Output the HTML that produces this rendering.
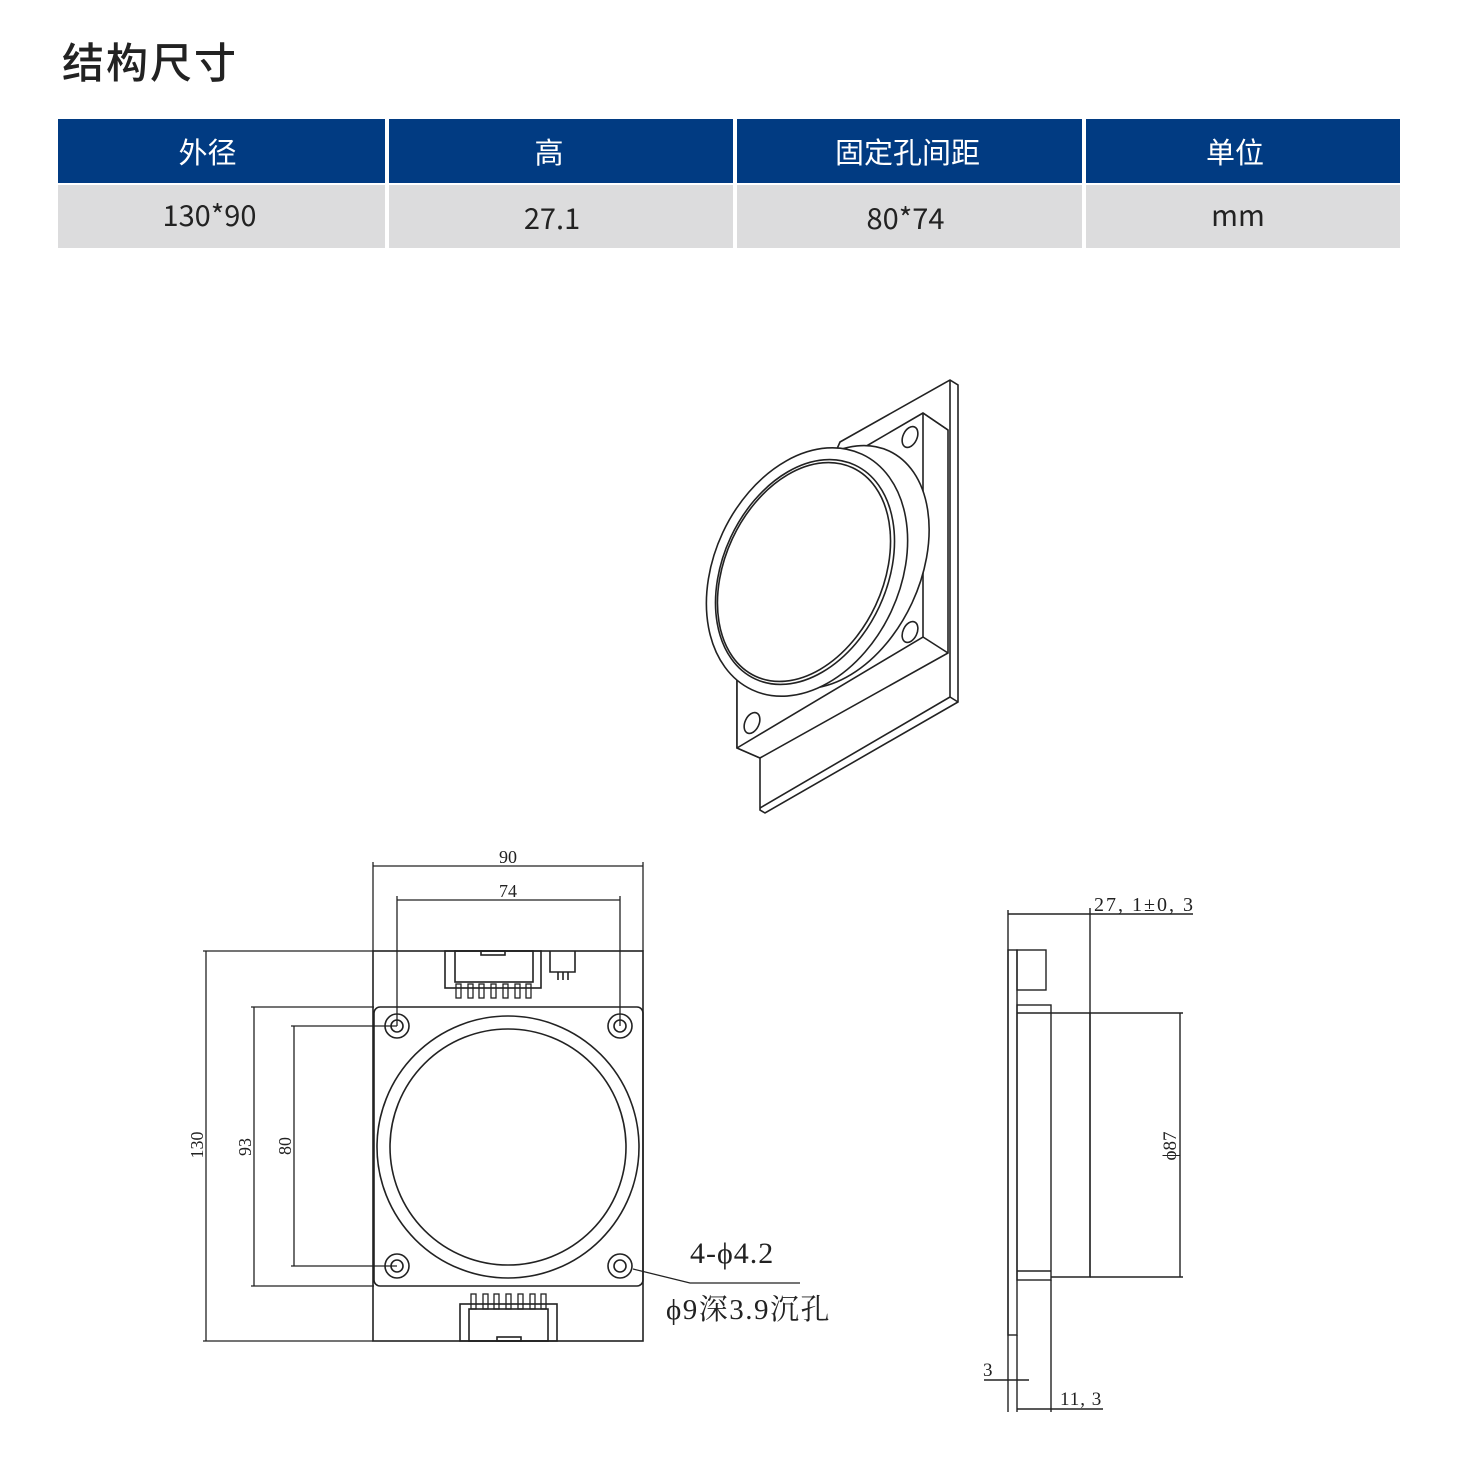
<!DOCTYPE html>
<html><head><meta charset="utf-8"><style>
body{margin:0;width:1464px;height:1470px;background:#fff;overflow:hidden;font-family:"Noto Sans CJK SC","Liberation Sans",sans-serif;}
.t{position:absolute;left:62px;top:31px;font-size:42px;font-weight:500;color:#222;letter-spacing:2px;line-height:60px}
.c{position:absolute;display:flex;align-items:center;justify-content:center;font-size:29px;font-weight:400;box-sizing:border-box}
.h{background:#013b82;color:#fff;top:119px;height:64px}
.r{background:#dcdcdd;color:#222;top:185px;height:63px}
svg{position:absolute;left:0;top:0}
</style></head><body>
<div class="t">结构尺寸</div>
<div class="c h" style="left:58px;width:327px;padding-right:28px">外径</div>
<div class="c h" style="left:389px;width:344px;padding-right:24px">高</div>
<div class="c h" style="left:737px;width:345px;padding-right:4px">固定孔间距</div>
<div class="c h" style="left:1086px;width:314px;padding-right:16px">单位</div>
<div class="c r" style="left:58px;width:327px;padding-right:24px;padding-bottom:6px">130*90</div>
<div class="c r" style="left:389px;width:344px;padding-right:18px">27.1</div>
<div class="c r" style="left:737px;width:345px;padding-right:8px">80*74</div>
<div class="c r" style="left:1086px;width:314px;padding-right:10px;padding-bottom:6px">mm</div>
<svg width="1464" height="1470" viewBox="0 0 1464 1470" fill="none" stroke="#222" stroke-width="1.6">
<!-- 3D view -->
<polygon points="950,380 958,385 958,702 765,813 760,810 760,758 737,748 737,678 840,442" fill="#fff"/>
<polyline points="950,380 950,697 760,808"/>
<line x1="950" y1="697" x2="958" y2="702"/>
<polygon points="923,413 948,430 948,653 760,758 737,748 737,678 863,448" fill="#fff"/>
<polyline points="923,413 923,637 737,748"/>
<line x1="923" y1="637" x2="948" y2="653"/>
<line x1="923" y1="413" x2="948" y2="430"/>
<ellipse cx="910" cy="437" rx="7" ry="11" transform="rotate(25 910 437)"/>
<ellipse cx="910" cy="632" rx="7" ry="11" transform="rotate(25 910 632)"/>
<ellipse cx="752" cy="723" rx="7" ry="11" transform="rotate(25 752 723)"/>
<ellipse cx="835" cy="567" rx="85" ry="128" transform="rotate(25 835 567)" fill="#fff"/>
<ellipse cx="807" cy="572" rx="93" ry="130" transform="rotate(25 807 572)" fill="#fff"/>
<ellipse cx="805" cy="572" rx="82" ry="118" transform="rotate(25 805 572)"/>
<ellipse cx="804" cy="572" rx="79" ry="115" transform="rotate(25 804 572)"/>
<!-- front view -->
<rect x="373" y="951" width="270" height="390" fill="#fff"/>
<rect x="374" y="1007" width="269" height="279" rx="6"/>
<circle cx="508" cy="1147" r="131"/><circle cx="508" cy="1147" r="118"/>
<g><circle cx="397" cy="1026" r="12"/><circle cx="397" cy="1026" r="6"/>
<circle cx="620" cy="1026" r="12"/><circle cx="620" cy="1026" r="6"/>
<circle cx="397" cy="1266" r="12"/><circle cx="397" cy="1266" r="6"/>
<circle cx="620" cy="1266" r="12"/><circle cx="620" cy="1266" r="6"/></g>
<rect x="445" y="951" width="96" height="37"/><rect x="455" y="951" width="78" height="31"/>
<rect x="481" y="951" width="24" height="4"/>
<g stroke-width="1.3"><rect x="456" y="984" width="5" height="14"/><rect x="468" y="984" width="5" height="14"/><rect x="479" y="984" width="5" height="14"/><rect x="491" y="984" width="5" height="14"/><rect x="503" y="984" width="5" height="14"/><rect x="515" y="984" width="5" height="14"/><rect x="526" y="984" width="5" height="14"/></g>
<polyline points="550,951 550,972 575,972 575,951"/><line x1="558" y1="972" x2="558" y2="980"/><line x1="563" y1="972" x2="563" y2="980"/><line x1="568" y1="972" x2="568" y2="980"/>
<rect x="460" y="1304" width="97" height="37"/><rect x="469" y="1309" width="79" height="32"/>
<rect x="497" y="1337" width="24" height="4"/>
<g stroke-width="1.3"><rect x="471" y="1294" width="5" height="15"/><rect x="483" y="1294" width="5" height="15"/><rect x="494" y="1294" width="5" height="15"/><rect x="506" y="1294" width="5" height="15"/><rect x="518" y="1294" width="5" height="15"/><rect x="530" y="1294" width="5" height="15"/><rect x="541" y="1294" width="5" height="15"/></g>
<g stroke-width="1.3">
<line x1="373" y1="862" x2="373" y2="951"/><line x1="643" y1="862" x2="643" y2="951"/><line x1="373" y1="866" x2="643" y2="866"/>
<line x1="397" y1="896" x2="397" y2="1026"/><line x1="620" y1="896" x2="620" y2="1026"/><line x1="397" y1="900" x2="620" y2="900"/>
<line x1="203" y1="951" x2="373" y2="951"/><line x1="203" y1="1341" x2="373" y2="1341"/><line x1="206" y1="951" x2="206" y2="1341"/>
<line x1="251" y1="1007" x2="374" y2="1007"/><line x1="251" y1="1286" x2="374" y2="1286"/><line x1="254" y1="1007" x2="254" y2="1286"/>
<line x1="291" y1="1026" x2="397" y2="1026"/><line x1="291" y1="1266" x2="397" y2="1266"/><line x1="294" y1="1026" x2="294" y2="1266"/>
<polyline points="633,1269 690,1283 800,1283"/>
</g>
<!-- side view -->
<g stroke-width="1.4">
<line x1="1008" y1="910" x2="1008" y2="1412"/>
<rect x="1008" y="950" width="9" height="385"/>
<rect x="1017" y="950" width="29" height="40"/>
<rect x="1017" y="1005" width="34" height="275"/>
<line x1="1017" y1="1013" x2="1051" y2="1013"/><line x1="1017" y1="1271" x2="1051" y2="1271"/>
<polyline points="1051,1013 1090,1013 1090,1277 1051,1277"/>
<line x1="1090" y1="1013" x2="1183" y2="1013"/><line x1="1090" y1="1277" x2="1183" y2="1277"/>
<line x1="1180" y1="1013" x2="1180" y2="1277"/>
<line x1="1008" y1="914" x2="1193" y2="914"/><line x1="1090" y1="908" x2="1090" y2="1277"/>
<line x1="1017" y1="1335" x2="1017" y2="1412"/><line x1="1051" y1="1280" x2="1051" y2="1412"/>
<line x1="984" y1="1380" x2="1029" y2="1380"/>
<line x1="1017" y1="1409" x2="1103" y2="1409"/>
</g>
<g fill="#222" stroke="none" font-family="Liberation Serif,Noto Serif CJK SC,serif">
<text x="508" y="863" font-size="18" text-anchor="middle">90</text>
<text x="508" y="897" font-size="18" text-anchor="middle">74</text>
<text transform="translate(203 1145) rotate(-90)" font-size="18" text-anchor="middle">130</text>
<text transform="translate(251 1147) rotate(-90)" font-size="18" text-anchor="middle">93</text>
<text transform="translate(291 1146) rotate(-90)" font-size="18" text-anchor="middle">80</text>
<text x="690" y="1263" font-size="30" letter-spacing="1">4-ϕ4.2</text>
<text x="666" y="1319" font-size="29" letter-spacing="1.5">ϕ9深3.9沉孔</text>
<text x="1094" y="911" font-size="20" letter-spacing="2">27, 1±0, 3</text>
<text transform="translate(1176 1146) rotate(-90)" font-size="19" text-anchor="middle">ϕ87</text>
<text x="983" y="1376" font-size="19">3</text>
<text x="1060" y="1405" font-size="19" letter-spacing="1">11, 3</text>
</g>
</svg>
</body></html>
